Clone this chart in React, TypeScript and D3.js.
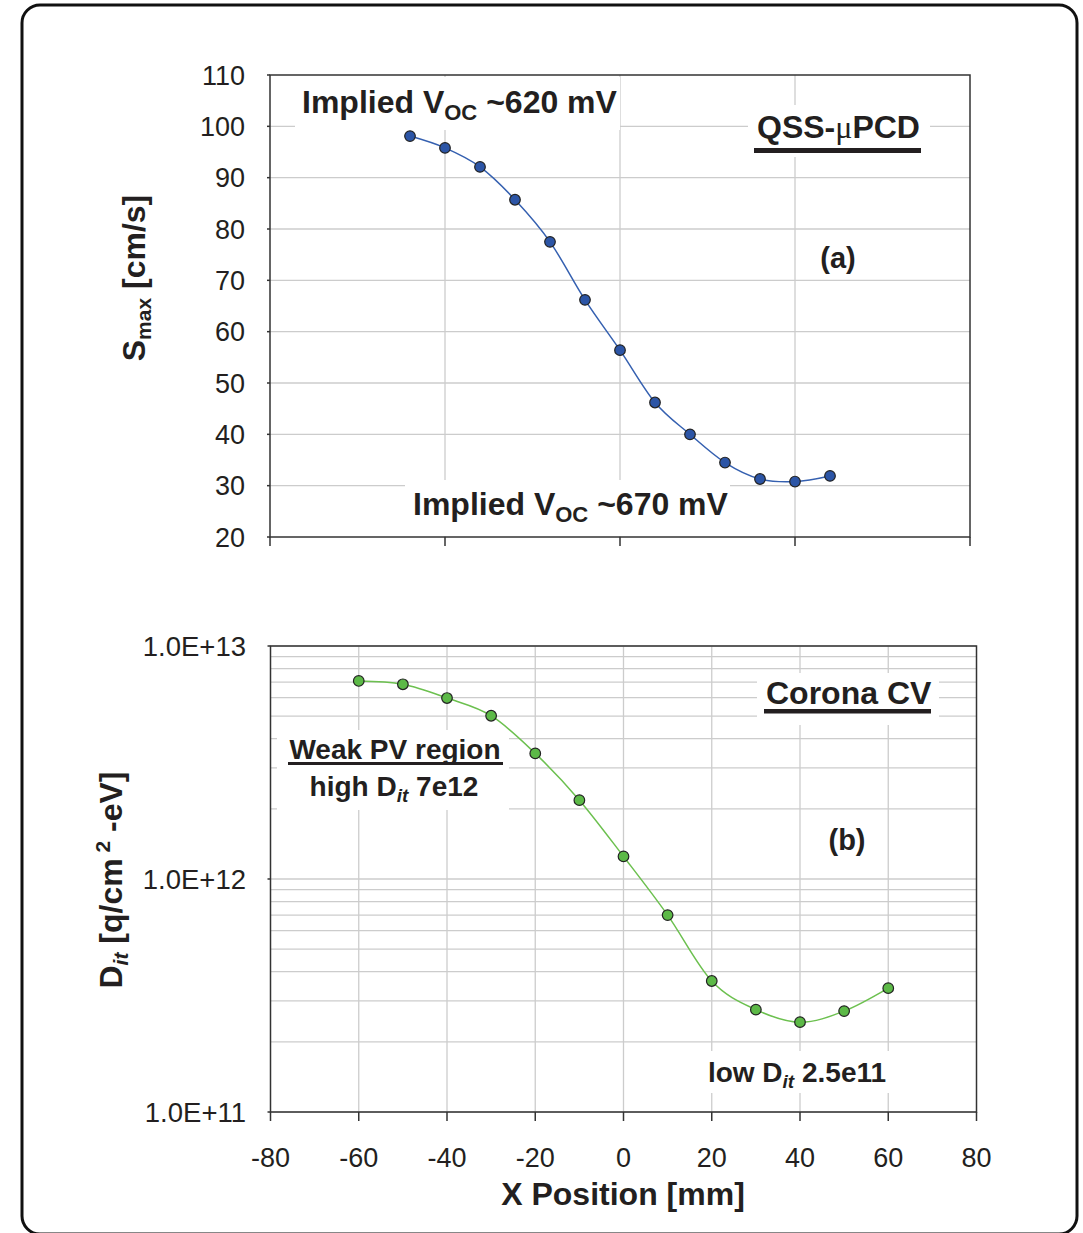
import React from 'react';
import * as d3 from 'd3';

// panel (a): QSS-uPCD Smax vs position
const posA = [-48, -40, -32, -24, -16, -8, 0, 8, 16, 24, 32, 40, 48];
const smax = [98.1, 95.8, 92.1, 85.7, 77.5, 66.2, 56.4, 46.2, 40.0, 34.5, 31.3, 30.8, 31.9];

// panel (b): Corona CV Dit vs position
const posB = [-60, -50, -40, -30, -20, -10, 0, 10, 20, 30, 40, 50, 60];
const dit = [7.08e12, 6.85e12, 5.98e12, 5.02e12, 3.46e12, 2.18e12, 1.25e12, 7.0e11, 3.65e11, 2.75e11, 2.43e11, 2.71e11, 3.4e11];

const xTicks = [-80, -60, -40, -20, 0, 20, 40, 60, 80];
const xTicksA = [-80, -40, 0, 40, 80];
const yTicksA = [20, 30, 40, 50, 60, 70, 80, 90, 100, 110];
const yTicksB = [1e11, 1e12, 1e13];

const FONT = 'Liberation Sans, Arial, sans-serif';
const INK = '#231f20';
const GRID = '#cccccc';

const App = () => {
  const xA = d3.scaleLinear().domain([-80, 80]).range([270, 970]);
  const yA = d3.scaleLinear().domain([20, 110]).range([537, 75]);
  const xB = d3.scaleLinear().domain([-80, 80]).range([270.5, 976.5]);
  const yB = d3.scaleLog().domain([1e11, 1e13]).range([1112, 646]);

  const lineA = d3
    .line<number>()
    .x((_, i) => xA(posA[i]))
    .y((d) => yA(d))
    .curve(d3.curveCatmullRom.alpha(0));
  const lineB = d3
    .line<number>()
    .x((_, i) => xB(posB[i]))
    .y((d) => yB(d))
    .curve(d3.curveCatmullRom.alpha(0));

  const [a0, a1] = xA.range();
  const [b0, b1] = xB.range();
  const fmtE = (v: number) => '1.0E+' + Math.round(Math.log10(v));

  return (
    <svg
      width={1083}
      height={1233}
      style={{ position: 'absolute', left: 0, top: 0, background: '#fff' }}
      fontFamily={FONT}
    >
      <rect x={22} y={5} width={1055} height={1229} rx={18} fill="#fff" stroke="#111" strokeWidth={3} />

      {/* ---------- panel (a) ---------- */}
      <g>
        {yTicksA.slice(1, -1).map((t) => (
          <line key={t} x1={a0} x2={a1} y1={yA(t)} y2={yA(t)} stroke={GRID} strokeWidth={1.3} />
        ))}
        {xTicksA.slice(1, -1).map((t) => (
          <line key={t} x1={xA(t)} x2={xA(t)} y1={yA(110)} y2={yA(20)} stroke={GRID} strokeWidth={1.3} />
        ))}
        {/* label backgrounds */}
        <rect x={295} y={77} width={325} height={53} fill="#fff" />
        <rect x={748} y={105} width={182} height={52} fill="#fff" />
        <rect x={405} y={480} width={325} height={56} fill="#fff" />

        <rect x={a0} y={yA(110)} width={a1 - a0} height={yA(20) - yA(110)} fill="none" stroke="#333" strokeWidth={1.5} />
        {xTicksA.map((t) => (
          <line key={t} x1={xA(t)} x2={xA(t)} y1={yA(20)} y2={yA(20) + 9} stroke="#333" strokeWidth={1.5} />
        ))}
        {yTicksA.map((t) => (
          <g key={t}>
            <line x1={a0 - 3} x2={a0} y1={yA(t)} y2={yA(t)} stroke="#333" strokeWidth={1.5} />
            <text x={245} y={yA(t)} dy="0.36em" textAnchor="end" fontSize={27} fill={INK}>
              {t}
            </text>
          </g>
        ))}

        <path d={lineA(smax) || ''} fill="none" stroke="#3560b0" strokeWidth={1.5} />
        {smax.map((v, i) => (
          <circle key={i} cx={xA(posA[i])} cy={yA(v)} r={5.3} fill="#2c55a6" stroke="#222" strokeWidth={1.2} />
        ))}

        <text x={302} y={113} fontSize={32} fontWeight="bold" fill={INK}>
          Implied V
          <tspan fontSize={22} dy={7}>OC</tspan>
          <tspan dy={-7}> ~620 mV</tspan>
        </text>
        <text x={757} y={138} fontSize={32} fontWeight="bold" fill={INK}>
          QSS-
          <tspan fontFamily="Liberation Serif, serif" fontWeight="normal">μ</tspan>
          PCD
        </text>
        <rect x={754} y={148} width={167} height={5} fill={INK} />
        <text x={838} y={268} fontSize={29} fontWeight="bold" fill={INK} textAnchor="middle">
          (a)
        </text>
        <text x={413} y={515} fontSize={32} fontWeight="bold" fill={INK}>
          Implied V
          <tspan fontSize={22} dy={7}>OC</tspan>
          <tspan dy={-7}> ~670 mV</tspan>
        </text>

        <text transform="translate(145,278) rotate(-90)" textAnchor="middle" fontSize={32} fontWeight="bold" fill={INK}>
          S<tspan fontSize={21} dy={6}>max</tspan>
          <tspan dy={-6}> [cm/s]</tspan>
        </text>
      </g>

      {/* ---------- panel (b) ---------- */}
      <g>
        {yB.ticks().map((t, i) => (
          <line key={i} x1={b0} x2={b1} y1={yB(t)} y2={yB(t)} stroke={GRID} strokeWidth={1.3} />
        ))}
        {xTicks.slice(1, -1).map((t) => (
          <line key={t} x1={xB(t)} x2={xB(t)} y1={yB(1e13)} y2={yB(1e11)} stroke={GRID} strokeWidth={1.3} />
        ))}
        {/* label backgrounds */}
        <rect x={757} y={673} width={182} height={52} fill="#fff" />
        <rect x={277} y={730} width={232} height={80} fill="#fff" />
        <rect x={702} y={1051} width={192} height={42} fill="#fff" />

        <rect x={b0} y={yB(1e13)} width={b1 - b0} height={yB(1e11) - yB(1e13)} fill="none" stroke="#333" strokeWidth={1.5} />
        {xTicks.map((t) => (
          <g key={t}>
            <line x1={xB(t)} x2={xB(t)} y1={yB(1e11)} y2={yB(1e11) + 9} stroke="#333" strokeWidth={1.5} />
            <text x={xB(t)} y={1167} textAnchor="middle" fontSize={27} fill={INK}>
              {t}
            </text>
          </g>
        ))}
        {yTicksB.map((t) => (
          <g key={t}>
            <line x1={b0 - 3} x2={b0} y1={yB(t)} y2={yB(t)} stroke="#333" strokeWidth={1.5} />
            <text x={246} y={yB(t)} dy="0.36em" textAnchor="end" fontSize={27.5} fill={INK}>
              {fmtE(t)}
            </text>
          </g>
        ))}

        <path d={lineB(dit) || ''} fill="none" stroke="#6cc04f" strokeWidth={1.5} />
        {dit.map((v, i) => (
          <circle key={i} cx={xB(posB[i])} cy={yB(v)} r={5.3} fill="#5cb947" stroke="#222" strokeWidth={1.2} />
        ))}

        <text x={766} y={704} fontSize={32} fontWeight="bold" fill={INK}>
          Corona CV
        </text>
        <rect x={764} y={709} width={167} height={4.5} fill={INK} />

        <text x={395} y={759} fontSize={28} fontWeight="bold" fill={INK} textAnchor="middle">
          Weak PV region
        </text>
        <rect x={288} y={762} width={215} height={3} fill={INK} />
        <text x={394} y={796} fontSize={28} fontWeight="bold" fill={INK} textAnchor="middle">
          high D
          <tspan fontSize={19} fontStyle="italic" dy={6}>it</tspan>
          <tspan dy={-6}> 7e12</tspan>
        </text>

        <text x={847} y={850} fontSize={29} fontWeight="bold" fill={INK} textAnchor="middle">
          (b)
        </text>

        <text x={797} y={1082} fontSize={28} fontWeight="bold" fill={INK} textAnchor="middle">
          low D
          <tspan fontSize={19} fontStyle="italic" dy={6}>it</tspan>
          <tspan dy={-6}> 2.5e11</tspan>
        </text>

        <text transform="translate(122,880) rotate(-90)" textAnchor="middle" fontSize={32} fontWeight="bold" fill={INK}>
          D<tspan fontSize={21} fontStyle="italic" dy={6}>it</tspan>
          <tspan dy={-6}> [q/cm</tspan>
          <tspan fontSize={21} dy={-12}> 2</tspan>
          <tspan dy={12}> -eV]</tspan>
        </text>

        <text x={623} y={1205} textAnchor="middle" fontSize={32} fontWeight="bold" fill={INK}>
          X Position [mm]
        </text>
      </g>
    </svg>
  );
};

export default App;
